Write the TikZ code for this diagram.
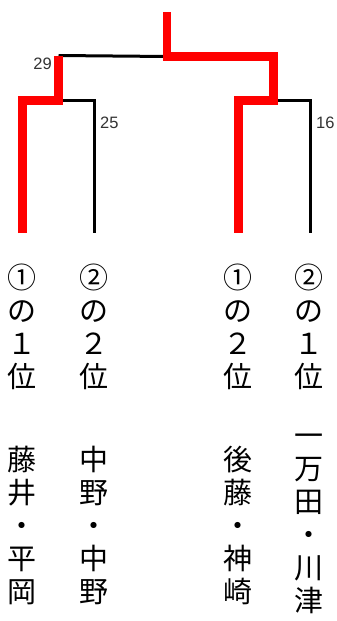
\documentclass[tikz,border=0pt]{standalone}
\usepackage{fontspec}
\newfontfamily\jpfont{Noto Sans CJK JP}
\newfontfamily\numfont{Liberation Sans}
\begin{document}
\begin{tikzpicture}[x=1pt,y=-1pt,
  redline/.style={draw=red, line width=8.5pt, line join=miter},
  blackline/.style={draw=black, line width=3pt, line join=miter},
  score/.style={font=\numfont\fontsize{16.5}{16.5}\selectfont, text=black!80, inner sep=0pt},
  vtext/.style={font=\jpfont\fontsize{29}{33}\selectfont, align=center, inner sep=0pt}]
\useasboundingbox (0,0) rectangle (337,621);
% bracket corners
\coordinate (top) at (167,12);
\coordinate (rootL) at (167,56.5);
\coordinate (rootR) at (273.5,56.5);
\coordinate (L1) at (58.5,55.5);
\coordinate (L1b) at (58.5,100.5);
\coordinate (La) at (22.5,100.5);
\coordinate (Lb) at (94,100.5);
\coordinate (R1b) at (273.5,100.5);
\coordinate (Ra) at (238.5,100.5);
\coordinate (Rb) at (310,100.5);
\coordinate (p1) at (22.5,233);
\coordinate (p2) at (94,233);
\coordinate (p3) at (238.5,233);
\coordinate (p4) at (310,233);
% black (losing) lines
\draw[blackline] (L1) -- (rootL);
\draw[blackline] (L1b) -- (Lb) -- (p2);
\draw[blackline] (R1b) -- (Rb) -- (p4);
% red (winning) lines
\draw[redline] (p1) -- (La) -- (L1b) -- (L1);
\draw[redline] (top) -- (rootL) -- (rootR) -- (R1b) -- (Ra) -- (p3);
% scores
\node[score, anchor=east] (s29) at (52,64) {29};
\node[score, anchor=west] (s25) at (100,123) {25};
\node[score, anchor=west] (s16) at (316,123) {16};
% seeds
\node[vtext] (c1) at (22,326.5) {①\\の\\１\\位};
\node[vtext] (c2) at (94,326.5) {②\\の\\２\\位};
\node[vtext] (c3) at (237.5,326.5) {①\\の\\２\\位};
\node[vtext] (c4) at (309,326.5) {②\\の\\１\\位};
% names
\node[vtext] (n1) at (22,525.5) {藤\\井\\・\\平\\岡};
\node[vtext] (n2) at (94,525.5) {中\\野\\・\\中\\野};
\node[vtext] (n3) at (237.5,525.5) {後\\藤\\・\\神\\崎};
\node[vtext] (n4) at (309,524) {一\\万\\田\\・\\川\\津};
\end{tikzpicture}
\end{document}
